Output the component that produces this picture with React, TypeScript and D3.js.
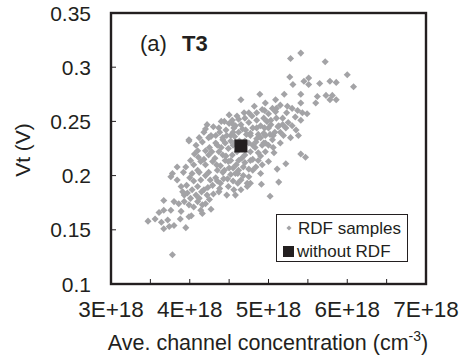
import React from "react";
import * as d3 from "d3";

// Concentration in units of 1E+18 cm^-3, Vt in volts
const rdfSamples: [number, number][] = [
  [5.41,0.313],[5.28,0.308],[5.72,0.305],[5.27,0.291],[5.51,0.290],[5.45,0.287],[5.31,0.284],[5.51,0.284],
  [5.65,0.285],[5.78,0.287],[5.86,0.286],[6.00,0.293],[6.08,0.282],[5.20,0.275],[5.41,0.275],[5.62,0.273],
  [5.73,0.274],[5.81,0.274],[5.78,0.270],[5.86,0.270],[5.60,0.267],[5.41,0.267],[5.49,0.257],[5.24,0.264],
  [5.30,0.262],[5.37,0.260],[5.43,0.258],[5.23,0.258],[5.34,0.254],[5.41,0.251],[5.18,0.253],[5.25,0.249],
  [5.22,0.244],[5.30,0.246],[5.35,0.242],[5.19,0.237],[5.28,0.235],[5.38,0.237],[5.13,0.246],[5.09,0.259],
  [4.96,0.230],[5.07,0.221],[5.00,0.213],[5.41,0.220],[5.47,0.217],[5.22,0.211],[5.11,0.206],[5.13,0.194],
  [4.91,0.192],[5.02,0.181],[4.58,0.182],[4.77,0.193],[4.73,0.190],
  [3.78,0.127],[3.47,0.158],[3.56,0.160],[3.64,0.157],[3.67,0.151],[3.74,0.153],[3.80,0.154],[3.95,0.152],
  [3.99,0.162],[3.67,0.168],[3.76,0.168],[3.89,0.167],[3.67,0.177],[3.80,0.176],[3.86,0.174],[4.27,0.169],
  [4.16,0.165],[4.20,0.174],[3.84,0.208],[3.76,0.199],[3.84,0.196],[3.96,0.191],[3.99,0.232],[4.10,0.223],
  [4.20,0.223],[4.27,0.237],[4.14,0.213],[4.03,0.202],[3.72,0.159],[3.61,0.166],
  [3.91,0.185],[3.97,0.184],[4.03,0.187],[4.08,0.182],[4.12,0.179],[4.01,0.179],[4.10,0.176],[4.16,0.173],
  [4.05,0.171],[4.14,0.168],[3.99,0.173],[3.93,0.176],[3.89,0.190],[4.18,0.187],[4.22,0.182],[3.78,0.202],
  [4.89,0.275],[4.65,0.270],[4.82,0.264],[4.96,0.267],[5.05,0.262],[4.60,0.255],[4.50,0.256],[4.22,0.247],
  [4.20,0.243],[3.99,0.233],[4.27,0.236],[4.69,0.258],[4.79,0.255],[4.54,0.251],[4.54,0.248],[4.24,0.235],
  [5.09,0.270],[5.15,0.265],[4.92,0.261],[5.00,0.257],[5.10,0.262],[5.18,0.247],[5.03,0.247],
  [4.37,0.244],[4.46,0.242],[4.56,0.244],[4.65,0.247],[4.75,0.249],[4.85,0.251],[4.94,0.253],[5.03,0.251],
  [5.10,0.253],[4.33,0.237],[4.42,0.235],[4.52,0.237],[4.62,0.240],[4.71,0.242],[4.80,0.244],[4.90,0.246],
  [5.00,0.244],[5.08,0.240],[4.77,0.237],[4.87,0.238],[4.96,0.237],[5.05,0.233],[5.15,0.230],[4.84,0.231],
  [4.92,0.228],[5.15,0.240],[4.70,0.253],[4.44,0.250],
  [4.77,0.239],[4.94,0.239],[5.06,0.237],[4.94,0.230],[5.06,0.226],[4.87,0.221],[4.77,0.214],[4.68,0.208],
  [4.84,0.208],[4.61,0.202],[4.75,0.199],[4.90,0.202],[4.61,0.193],[4.73,0.193],[4.56,0.187],[4.80,0.228],
  [4.87,0.214],[4.96,0.222],[4.77,0.222],[4.92,0.210],[4.70,0.219],[4.62,0.214],[4.67,0.225],[4.54,0.219],
  [4.49,0.225],
  [4.08,0.228],[4.16,0.231],[4.33,0.230],[4.42,0.233],[4.52,0.232],[4.58,0.231],[4.11,0.217],[4.24,0.219],
  [4.37,0.222],[4.46,0.218],[4.05,0.210],[4.20,0.210],[4.29,0.213],[4.39,0.209],[4.49,0.213],[4.59,0.210],
  [4.24,0.203],[4.33,0.198],[4.42,0.203],[4.52,0.201],[4.29,0.191],[4.39,0.193],[4.49,0.190],[4.37,0.185],
  [4.47,0.182],[4.65,0.187],
  [4.01,0.214],[4.10,0.205],[3.92,0.203],[4.14,0.196],[4.23,0.189],
  [4.40,0.226],[4.55,0.240],[4.60,0.222],[4.70,0.232],[4.45,0.214],[4.35,0.205],[4.50,0.207],[4.80,0.215],
  [4.65,0.196],[4.28,0.222],[4.20,0.200],[4.30,0.183],[4.58,0.246],[4.72,0.238],[4.85,0.244],[4.95,0.244],
  [4.83,0.226],[4.66,0.216],[4.43,0.197],[4.15,0.185],[4.25,0.178],[4.35,0.195],[4.55,0.195],[4.47,0.237],
  [4.38,0.240],[4.90,0.235],[5.00,0.228],[4.75,0.206],[4.62,0.205],[4.52,0.214],
  [4.30,0.245],[4.40,0.250],[4.50,0.248],[4.62,0.252],[4.75,0.258],[4.85,0.258],[4.95,0.260],[4.35,0.228],
  [4.45,0.230],[4.55,0.228],[4.63,0.232],[4.75,0.230],[4.85,0.234],[4.25,0.226],[4.18,0.215],[4.32,0.216],
  [4.42,0.219],[4.55,0.207],[4.68,0.200],[4.80,0.205],[4.05,0.195],[4.12,0.203],[4.26,0.196],[4.38,0.188],
  [4.48,0.197],[4.58,0.202],[4.70,0.212],[4.90,0.218],[5.02,0.238],[4.98,0.250],[5.12,0.245],[4.57,0.236],
  [4.67,0.243],[4.34,0.210],[4.44,0.205],[4.10,0.190],[4.00,0.198],[3.95,0.208],[4.06,0.220],[4.18,0.240],
  [4.12,0.235],[3.93,0.182],[4.02,0.163],[3.88,0.160],
];

const withoutRdf: [number, number] = [4.65, 0.2273];

const xTicks = [3, 4, 5, 6, 7];
const xMinorTicks = [3.5, 4, 4.5, 5, 5.5, 6, 6.5];
const yTicks = [0.1, 0.15, 0.2, 0.25, 0.3, 0.35];
const yTickLabels = ["0.1", "0.15", "0.2", "0.25", "0.3", "0.35"];

const W = 468;
const H = 361;
const L = 111, R = 426, T = 13, B = 284;
const FONT = "'Liberation Sans', Arial, sans-serif";
const DARK = "#231f20";
const GRAY = "#a3a3a6";

export default function App() {
  const x = d3.scaleLinear().domain([3, 7]).range([L, R]);
  const y = d3.scaleLinear().domain([0.1, 0.35]).range([B, T]);
  const diamond = d3.symbol(d3.symbolSquare, 25)() as string;
  const legendDiamond = d3.symbol(d3.symbolSquare, 13)() as string;

  return (
    <svg width={W} height={H} style={{ position: "absolute", left: 0, top: 0, background: "#fff" }}>
      <g>
        {rdfSamples.map((d, i) => (
          <path key={i} d={diamond} fill={GRAY}
            transform={`translate(${x(d[0])},${y(d[1])}) rotate(45)`} />
        ))}
        <rect x={x(withoutRdf[0]) - 6.5} y={y(withoutRdf[1]) - 6.5} width={13} height={13} fill={DARK} />
      </g>
      <rect x={L} y={T} width={R - L} height={B - T} fill="none" stroke={DARK} strokeWidth={2.4} />
      {xMinorTicks.map((t) => (
        <line key={t} x1={x(t)} x2={x(t)} y1={B} y2={B - 5} stroke={DARK} strokeWidth={1} />
      ))}
      {yTicks.slice(1, -1).map((t) => (
        <line key={t} x1={L} x2={L + 5} y1={y(t)} y2={y(t)} stroke={DARK} strokeWidth={1} />
      ))}
      {xTicks.map((t) => (
        <text key={t} x={x(t)} y={317} textAnchor="middle" fontFamily={FONT} fontSize={22.5} fill={DARK}>
          {`${t}E+18`}
        </text>
      ))}
      {yTicks.map((t, i) => (
        <text key={t} x={91} y={y(t)} dy="0.36em" textAnchor="end" fontFamily={FONT} fontSize={21} fill={DARK}>
          {yTickLabels[i]}
        </text>
      ))}
      <text x={268} y={350} textAnchor="middle" fontFamily={FONT} fontSize={21.5} fill={DARK}>
        Ave. channel concentration (cm<tspan dy={-9} fontSize={14}>-3</tspan><tspan dy={9}>)</tspan>
      </text>
      <text transform={`translate(30,150) rotate(-90)`} textAnchor="middle" fontFamily={FONT} fontSize={21} fill={DARK}>
        Vt (V)
      </text>
      <text x={140} y={51} fontFamily={FONT} fontSize={22} fill={DARK}>
        (a)<tspan x={182} fontWeight="bold">T3</tspan>
      </text>
      <rect x={276.5} y={214.5} width={131} height={47} fill="#fff" stroke={DARK} strokeWidth={1} />
      <path d={legendDiamond} fill={GRAY} transform="translate(289,228) rotate(45)" />
      <text x={298} y={233.5} fontFamily={FONT} fontSize={17} fill={DARK}>RDF samples</text>
      <rect x={283} y={246} width={11} height={11} fill={DARK} />
      <text x={297} y={257} fontFamily={FONT} fontSize={17} fill={DARK}>without RDF</text>
    </svg>
  );
}
